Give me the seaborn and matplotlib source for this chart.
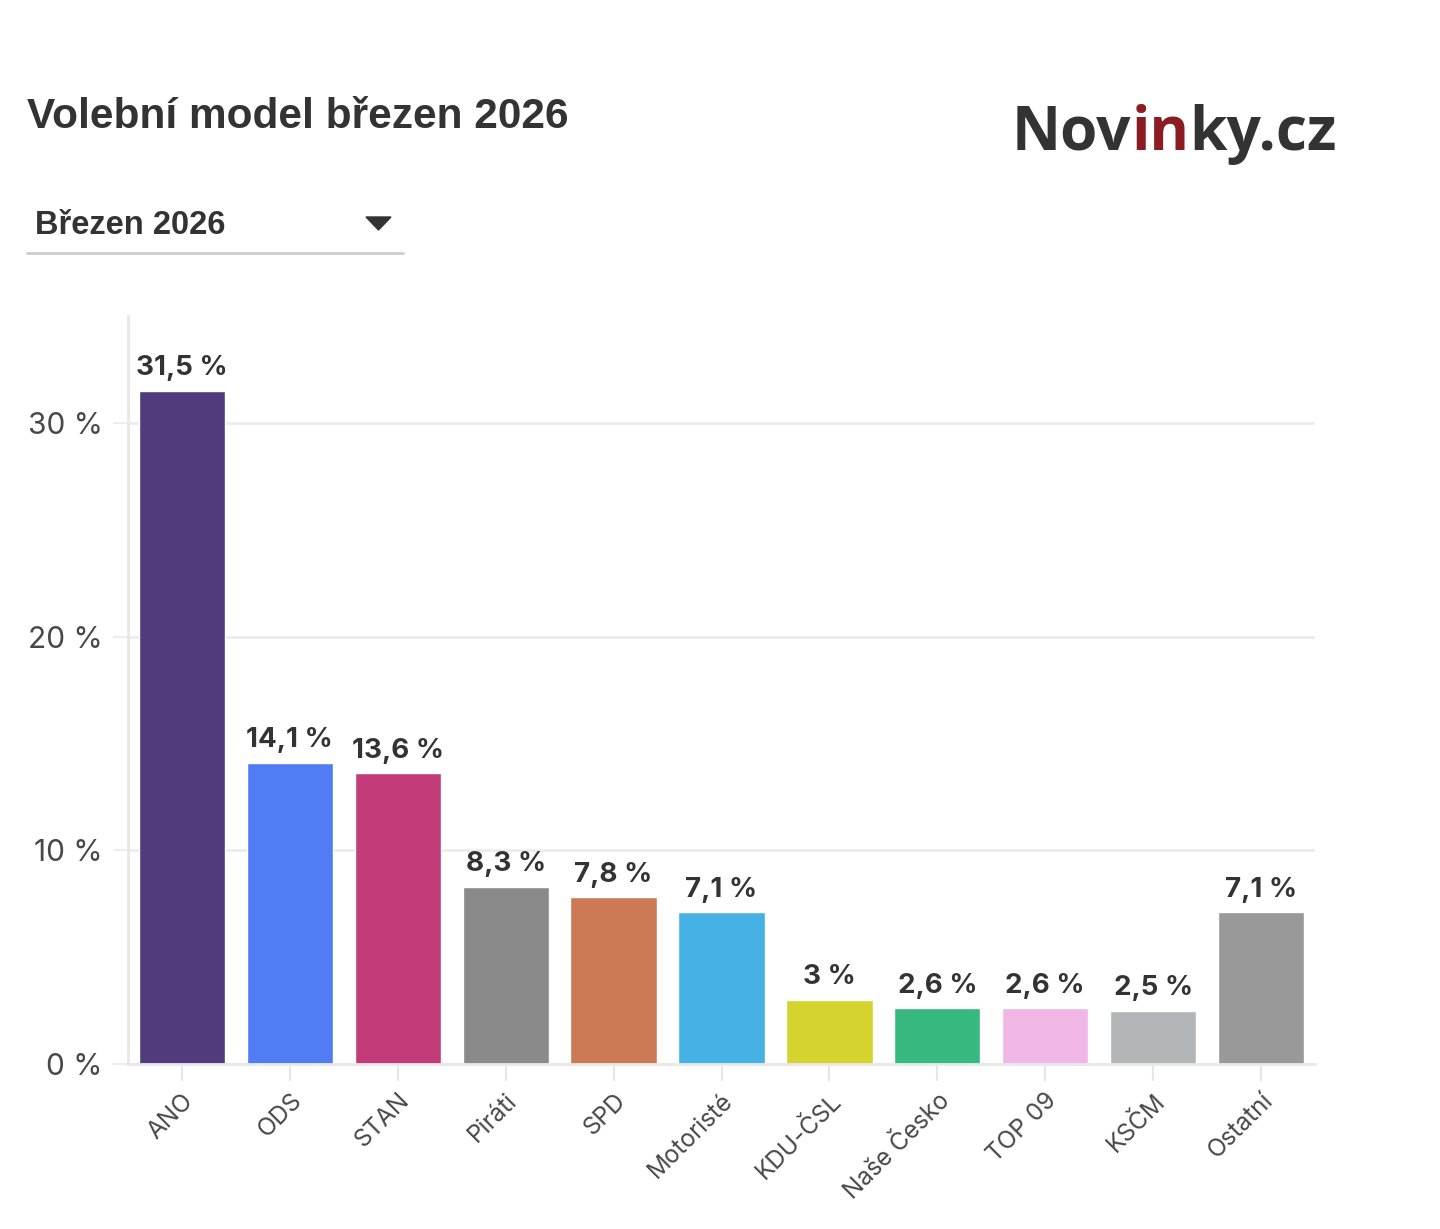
import matplotlib
matplotlib.use("Agg")
import matplotlib.pyplot as plt
import seaborn as sns
import pandas as pd
from matplotlib.patches import Polygon
from matplotlib.lines import Line2D

parties = ["ANO", "ODS", "STAN", "Piráti", "SPD", "Motoristé", "KDU-ČSL",
           "Naše Česko", "TOP 09", "KSČM", "Ostatní"]
values = [31.5, 14.1, 13.6, 8.3, 7.8, 7.1, 3.0, 2.6, 2.6, 2.5, 7.1]
labels = ["31,5 %", "14,1 %", "13,6 %", "8,3 %", "7,8 %", "7,1 %", "3 %",
          "2,6 %", "2,6 %", "2,5 %", "7,1 %"]
colors = ["#523b7c", "#527cf4", "#c43b7a", "#8a8a8a", "#cb7a55", "#45b1e5",
          "#d5d42f", "#37b87f", "#efb6e6", "#b3b6b9", "#999999"]
yticks = [0, 10, 20, 30]
ytick_labels = ["0 %", "10 %", "20 %", "30 %"]

sns.set_theme(style="white")
plt.rcParams["font.family"] = ["Inter", "DejaVu Sans"]

W, H = 1440, 1229
fig = plt.figure(figsize=(W / 100, H / 100), dpi=100)
fig.patch.set_facecolor("white")

ax = fig.add_axes([128 / W, 1 - 1064 / H, (1315 - 128) / W, (1064 - 316) / H])
df = pd.DataFrame({"party": parties, "value": values})
sns.barplot(data=df, x="party", y="value", hue="party", palette=colors,
            legend=False, width=0.8, saturation=1, ax=ax)

ax.set_xlim(-0.5, 10.5)
ax.set_ylim(0, 35)
ax.set_xlabel("")
ax.set_ylabel("")
ax.set_yticks(yticks)
ax.set_yticklabels(ytick_labels)
ax.yaxis.grid(True, color="#ececec", linewidth=2)
ax.set_axisbelow(True)
for s in ["top", "right"]:
    ax.spines[s].set_visible(False)
for s in ["left", "bottom"]:
    ax.spines[s].set_color("#e8e8e8")
    ax.spines[s].set_linewidth(2)
ax.tick_params(axis="y", length=11, width=1.5, color="#ececec", pad=7,
               labelsize=21.5, labelcolor="#484848", left=True)
ax.tick_params(axis="x", length=12, width=1.5, color="#e6e6e6", pad=6,
               labelsize=17.5, labelcolor="#484848", bottom=True)
for lab in ax.get_xticklabels():
    lab.set_rotation(45)
    lab.set_ha("right")
    lab.set_va("top")
    lab.set_rotation_mode("anchor")

for i, (v, t) in enumerate(zip(values, labels)):
    ax.annotate(t, (i, v), xytext=(0, 7), textcoords="offset points",
                ha="center", va="bottom", fontsize=20, fontweight="bold",
                color="#333333")

# Title
fig.text(27 / W, 1 - 128 / H, "Volební model březen 2026", fontsize=30.5,
         fontweight="bold", color="#333333", family=["Liberation Sans", "DejaVu Sans"],
         ha="left", va="baseline")

# Dropdown
fig.text(35 / W, 1 - 234 / H, "Březen 2026", fontsize=23.5, fontweight="bold",
         color="#333333", family=["Liberation Sans", "DejaVu Sans"],
         ha="left", va="baseline")
fig.add_artist(Line2D([27 / W, 403 / W], [1 - 253 / H, 1 - 253 / H],
                      color="#cccccc", linewidth=2, transform=fig.transFigure))
tri = Polygon([[366 / W, 1 - 217 / H], [391 / W, 1 - 217 / H],
               [378.5 / W, 1 - 230 / H]], closed=True, color="#333333",
              transform=fig.transFigure)
fig.add_artist(tri)

# Logo
renderer = fig.canvas.get_renderer()
segments = [("Nov", "#333333"), ("in", "#8b1c22"), ("ky.cz", "#333333")]
x = 1012
for txt, col in segments:
    t = fig.text(x / W, 1 - 150 / H, txt, fontsize=43.5, fontweight="bold",
                 color=col, family=["Open Sans", "DejaVu Sans"],
                 ha="left", va="baseline")
    bb = t.get_window_extent(renderer=renderer)
    x += bb.width

fig.savefig("out.png", dpi=100, facecolor="white")
